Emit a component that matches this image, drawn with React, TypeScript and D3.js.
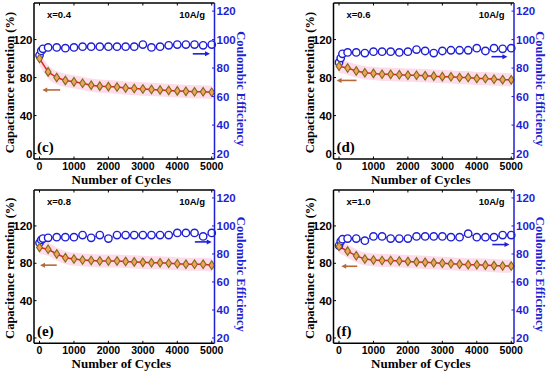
import React from 'react';
import * as d3 from 'd3';

// cycles where the markers sit
const redCycles = [0, 250, 500, 750, 1000, 1250, 1500, 1750, 2000, 2250, 2500, 2750, 3000, 3250, 3500, 3750, 4000, 4250, 4500, 4750, 5000];
const blueCycles = [0, 50, 100, 250, 500, 750, 1000, 1250, 1500, 1750, 2000, 2250, 2500, 2750, 3000, 3250, 3500, 3750, 4000, 4250, 4500, 4750, 5000];

// capacitance retention (%)
const retC = [100, 86, 80, 77, 75.5, 74, 72, 71, 70.5, 70, 69, 68.5, 68, 67.5, 67, 66.5, 66, 65.5, 65, 65, 64.5];
const retD = [92, 90, 87, 85, 84.4, 83.5, 83.4, 83, 82.5, 82.4, 82, 81.5, 81, 80.8, 80, 80, 79, 79, 78.3, 77.8, 77.6];
const retE = [97, 95, 90, 86, 84.5, 83.5, 83, 82.5, 82.5, 82.5, 82, 81.5, 81, 80.5, 80.5, 80, 79.5, 79, 79, 79, 78];
const retF = [98, 93, 88, 84.5, 83.5, 83, 83, 82.5, 82, 81.5, 81, 80.5, 80, 79.5, 79, 78.5, 78.5, 78, 77.5, 77, 77];

// coulombic efficiency (%)
const ceC = [89, 92, 93.5, 94.5, 94.5, 94, 94.5, 95, 95, 95, 95, 95, 95, 95, 96.5, 94.5, 95, 96, 96.5, 96.5, 96.5, 96, 96.5];
const ceD = [84, 87, 90, 91, 91, 90.5, 91.5, 91.5, 91.5, 91, 91.5, 93, 92, 90.5, 92, 92.5, 92.5, 92.5, 94, 92, 94, 93.5, 94];
const ceE = [88, 90, 91, 91.5, 92, 92, 92, 93.5, 91.5, 93.5, 91, 93.5, 93.5, 93.5, 93.5, 93.5, 93.5, 93.5, 95, 95, 95, 92.5, 95];
const ceF = [86, 89, 90.5, 91, 91, 89.5, 92.5, 92.5, 91, 91, 91, 92.5, 92.5, 92.5, 92.5, 92, 92, 94.5, 92, 92, 92, 93.5, 93.5];

const xTicks = [0, 1000, 2000, 3000, 4000, 5000];
const leftTicks = [0, 40, 80, 120];
const rightTicks = [20, 40, 60, 80, 100, 120];

const panelLabels = ['(c)', '(d)', '(e)', '(f)'];
const compLabels = ['x=0.4', 'x=0.6', 'x=0.8', 'x=1.0'];

// arrows: [fromCycle, toCycle, value]
const redArrows = [[600, 80, 67], [508, -72, 77], [500, 15, 78], [530, 65, 76.8]];
const blueArrows = [[4450, 4950, 90], [4425, 4890, 88], [4510, 5000, 88.6], [4450, 4950, 86.7]];

const BLUE = '#1f1fd6';
const BROWN = '#b8693a';
const W = 180.5;

function Panel({ left, top, h, ret, ce, idx }) {
  const x = d3.scaleLinear().domain([-160, 5080]).range([0, W]);
  const yL = d3.scaleLinear().domain([-5.7, 158.5]).range([h, 0]);
  const yR = d3.scaleLinear().domain([16.2, 125.67]).range([h, 0]);

  const redPts = redCycles.map((c, i) => [c, ret[i]]);
  const bluePts = blueCycles.map((c, i) => [c, ce[i]]);

  const line = d3.line().x(d => x(d[0])).y(d => yL(d[1]));
  const blueLine = d3.line().x(d => x(d[0])).y(d => yR(d[1]));
  const band = d3.area().x(d => x(d[0])).y0(d => yL(d[1] - 7)).y1(d => yL(d[1] + 7)).curve(d3.curveMonotoneX);

  const ra = redArrows[idx];
  const ba = blueArrows[idx];
  const bottomAbs = top + h;
  const sans = 'Liberation Sans, Arial, sans-serif';
  const serif = 'Liberation Serif, Times New Roman, serif';

  return (
    <g>
      <g transform={`translate(${left},${top})`}>
        <path d={band(redPts)} fill="rgba(255,160,200,0.38)" />
        <path d={blueLine(bluePts)} fill="none" stroke={BLUE} strokeWidth={0.8} />
        <path d={line(redPts)} fill="none" stroke="#e3241a" strokeWidth={1.5} />
        {bluePts.map((d, i) => (
          <circle key={'b' + i} cx={x(d[0])} cy={yR(d[1])} r={3.7} fill="#fff" stroke={BLUE} strokeWidth={1.4} />
        ))}
        {redPts.map((d, i) => (
          <path key={'r' + i} transform={`translate(${x(d[0])},${yL(d[1])})`}
            d="M0,-4.3L2.9,0L0,4.3L-2.9,0Z" fill="#f4a25a" stroke="#7b6b1c" strokeWidth={1.1} />
        ))}
        {/* arrows */}
        <line x1={x(ra[0])} x2={x(ra[1]) + 4} y1={yL(ra[2])} y2={yL(ra[2])} stroke={BROWN} strokeWidth={1.6} />
        <path transform={`translate(${x(ra[1])},${yL(ra[2])})`} d="M0,0L5,-2.5L5,2.5Z" fill={BROWN} />
        <line x1={x(ba[0])} x2={x(ba[1]) - 4} y1={yR(ba[2])} y2={yR(ba[2])} stroke={BLUE} strokeWidth={1.6} />
        <path transform={`translate(${x(ba[1])},${yR(ba[2])})`} d="M0,0L-5,-2.5L-5,2.5Z" fill={BLUE} />

        {/* frame */}
        <line x1={0} x2={W} y1={0} y2={0} stroke="#000" strokeWidth={1.5} />
        <line x1={0} x2={W} y1={h} y2={h} stroke="#000" strokeWidth={1.5} />
        <line x1={0} x2={0} y1={0} y2={h} stroke="#000" strokeWidth={1.5} />
        <line x1={W} x2={W} y1={0} y2={h} stroke={BLUE} strokeWidth={1.5} />
        {xTicks.map(t => (
          <g key={'x' + t}>
            <line x1={x(t)} x2={x(t)} y1={h} y2={h - 2.5} stroke="#000" strokeWidth={1} />
            <line x1={x(t)} x2={x(t)} y1={0} y2={2.5} stroke="#000" strokeWidth={1} />
            <text x={x(t)} y={h + 11} textAnchor="middle" fontFamily={sans} fontWeight="bold" fontSize={10.5}>{t}</text>
          </g>
        ))}
        {leftTicks.map(t => (
          <g key={'l' + t}>
            <line x1={0} x2={2.5} y1={yL(t)} y2={yL(t)} stroke="#000" strokeWidth={1} />
            <text x={-1.5} y={yL(t) + 4} textAnchor="end" fontFamily={sans} fontWeight="bold" fontSize={11.5}>{t}</text>
          </g>
        ))}
        {rightTicks.map(t => (
          <g key={'rt' + t}>
            <line x1={W} x2={W - 2.5} y1={yR(t)} y2={yR(t)} stroke={BLUE} strokeWidth={1} />
            <text x={W + 2} y={yR(t) + 4} textAnchor="start" fill={BLUE} fontFamily={sans} fontWeight="bold" fontSize={11.5}>{t}</text>
          </g>
        ))}
        <text x={13} y={15} fontFamily={sans} fontWeight="bold" fontSize={9.5}>{compLabels[idx]}</text>
        <text x={W - 9.5} y={15} textAnchor="end" fontFamily={sans} fontWeight="bold" fontSize={9.5}>10A/g</text>
        <text x={3} y={h - 7} fontFamily={serif} fontWeight="bold" fontSize={15}>{panelLabels[idx]}</text>
      </g>
      <text x={left + W / 2 - 3} y={bottomAbs + 25} textAnchor="middle" fontFamily={serif} fontWeight="bold" fontSize={13}>Number of Cycles</text>
      <text transform={`translate(${left - 20},${top + h * 0.51}) rotate(-90)`} textAnchor="middle" fontFamily={serif} fontWeight="bold" fontSize={12.5}>Capacitance retention (%)</text>
      <text transform={`translate(${left + W + 22},${top + h * 0.55}) rotate(90)`} textAnchor="middle" fill={BLUE} fontFamily={serif} fontWeight="bold" fontSize={12.5}>Coulombic Efficiency</text>
    </g>
  );
}

export default function App() {
  return (
    <svg width={550} height={376} style={{ position: 'absolute', left: 0, top: 0, background: '#fff' }}>
      <Panel left={34} top={3} h={156} ret={retC} ce={ceC} idx={0} />
      <Panel left={333.5} top={3} h={156} ret={retD} ce={ceD} idx={1} />
      <Panel left={34} top={190} h={153.3} ret={retE} ce={ceE} idx={2} />
      <Panel left={333.5} top={190} h={153.3} ret={retF} ce={ceF} idx={3} />
    </svg>
  );
}
